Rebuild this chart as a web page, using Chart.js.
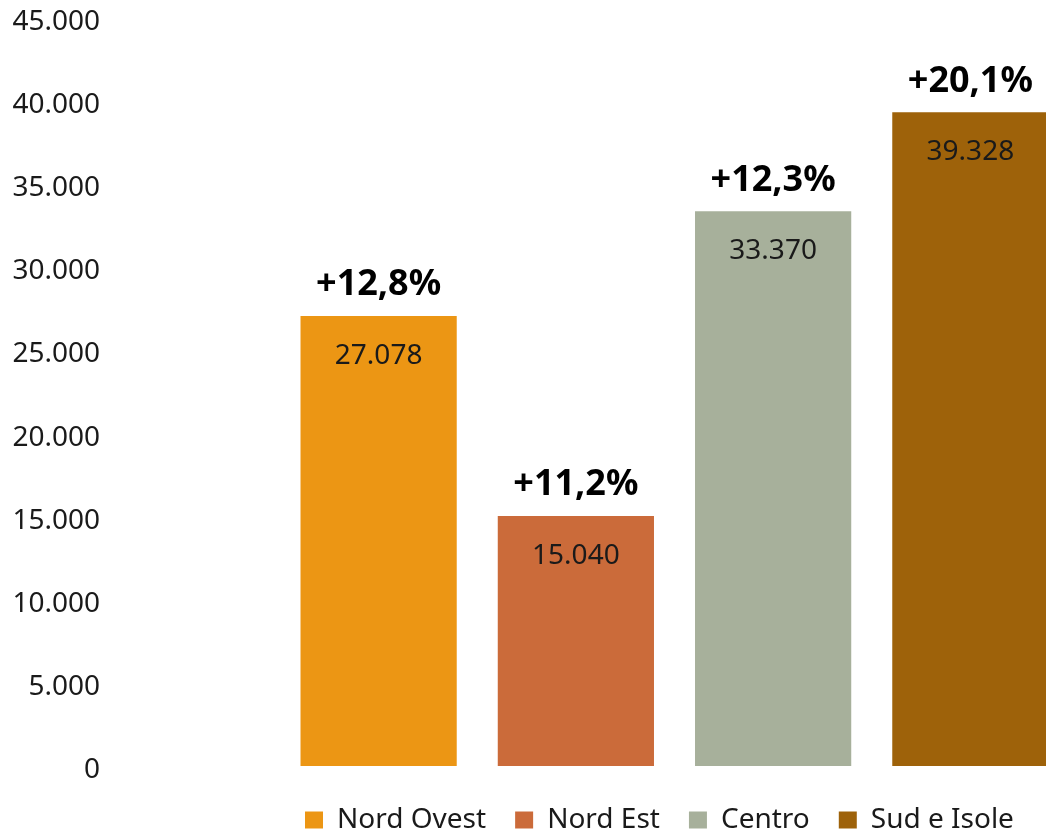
<!DOCTYPE html>
<html>
<head>
<meta charset="utf-8">
<script src="https://cdn.jsdelivr.net/npm/chart.js@4.4.1/dist/chart.umd.min.js"></script>
<style>
  html, body { margin: 0; padding: 0; background: #fff; overflow: hidden; }
  canvas { display: block; }
</style>
</head>
<body>
<canvas id="chart" width="1069" height="837"></canvas>
<script>
const areas = ['Nord Ovest', 'Nord Est', 'Centro', 'Sud e Isole'];
const totals = [27078, 15040, 33370, 39328];
const growth = [12.8, 11.2, 12.3, 20.1];
const colors = ['#EC9614', '#CB6B3A', '#A7B09B', '#9E620A'];

// 27078 -> "27.078"
function fmt(n) {
  return String(Math.round(n)).replace(/\B(?=(\d{3})+(?!\d))/g, '.');
}

Chart.defaults.font.family = '"Noto Sans", sans-serif';

// value inside each bar, growth above it
const barLabels = {
  id: 'barLabels',
  afterDatasetsDraw(chart) {
    const ctx = chart.ctx;
    ctx.save();
    ctx.textAlign = 'center';
    ctx.textBaseline = 'middle';
    chart.data.datasets.forEach((ds, i) => {
      const bar = chart.getDatasetMeta(i).data[i];
      if (!bar) return;
      ctx.font = '28px "Noto Sans"';
      ctx.fillStyle = '#1a1a1a';
      ctx.fillText(fmt(totals[i]), bar.x, bar.y + 40);
      ctx.font = 'bold 36px "Noto Sans"';
      ctx.fillStyle = '#000';
      ctx.fillText('+' + growth[i].toFixed(1).replace('.', ',') + '%', bar.x, bar.y - 31);
    });
    ctx.restore();
  }
};

// legend sits under the bars, not centred on the canvas
const legendPlace = {
  id: 'legendPlace',
  afterLayout(chart) {
    const lg = chart.legend;
    lg.left = 305 - lg.options.labels.padding;
    lg.top += 11;
  }
};

new Chart(document.getElementById('chart'), {
  type: 'bar',
  data: {
    labels: areas,
    datasets: areas.map((name, i) => ({
      label: name,
      data: areas.map((_, j) => (j === i ? totals[i] : null)),
      backgroundColor: colors[i],
      categoryPercentage: 1,
      barPercentage: 0.792,
      skipNull: true
    }))
  },
  options: {
    responsive: false,
    animation: false,
    layout: { padding: { left: 13, top: 18, right: 0, bottom: 4 } },
    plugins: {
      tooltip: { enabled: false },
      legend: {
        position: 'bottom',
        align: 'start',
        labels: {
          boxWidth: 18,
          boxHeight: 17,
          padding: 29,
          color: '#1a1a1a',
          font: { size: 28 }
        }
      }
    },
    scales: {
      x: { display: false },
      y: {
        min: 0,
        max: 45000,
        grid: { display: false, drawTicks: false },
        border: { display: false },
        ticks: {
          stepSize: 5000,
          padding: 180,
          labelOffset: 4,
          color: '#1a1a1a',
          font: { size: 28 },
          callback: v => fmt(v)
        },
        // wide gap between labels and the first bar, but no extra vertical padding
        afterFit(scale) {
          scale.width = 267;
          scale.paddingTop = 14;
          scale.paddingBottom = 14;
        }
      }
    }
  },
  plugins: [barLabels, legendPlace]
});
</script>
</body>
</html>
